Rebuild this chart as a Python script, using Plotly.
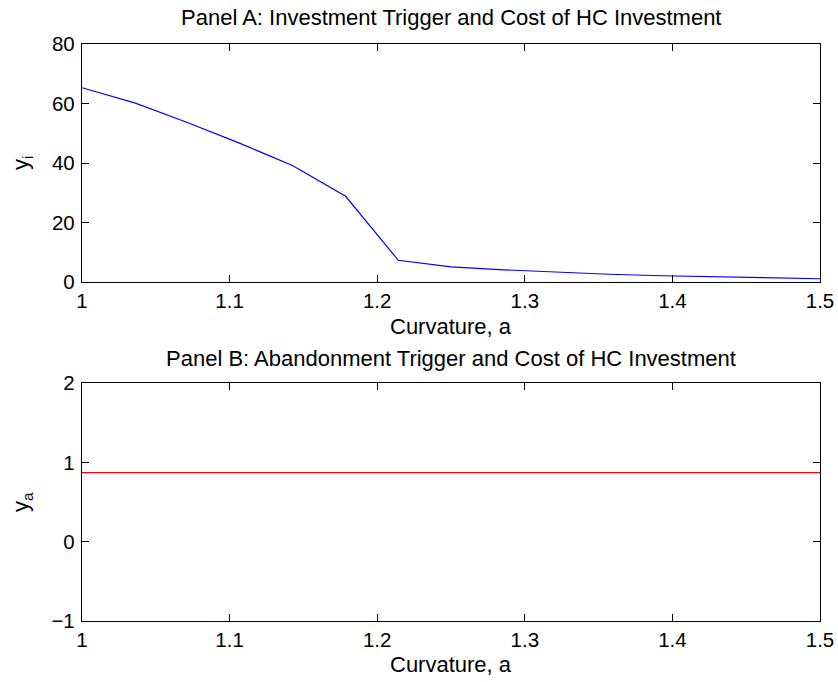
import plotly.graph_objects as go

curvature = [1.0, 1.0357, 1.0714, 1.1071, 1.1429, 1.1786, 1.2143, 1.25,
             1.2857, 1.3214, 1.3571, 1.3929, 1.4286, 1.4643, 1.5]
y_invest = [65.3, 60.2, 53.6, 46.6, 39.1, 28.8, 7.3, 5.1,
            4.1, 3.3, 2.6, 2.1, 1.7, 1.4, 1.1]
y_abandon = [0.87] * 15

x_ticks = [1, 1.1, 1.2, 1.3, 1.4, 1.5]
x_ticklabels = ["1", "1.1", "1.2", "1.3", "1.4", "1.5"]
yA_ticks = [0, 20, 40, 60, 80]
yB_ticks = [-1, 0, 1, 2]
yB_ticklabels = ["\u22121", "0", "1", "2"]

FONT = "Liberation Sans, Arial, Helvetica, sans-serif"
W, H = 838, 682

fig = go.Figure()
fig.add_trace(go.Scatter(x=curvature, y=y_invest, mode="lines",
                         line=dict(color="#0000ff", width=1.2),
                         xaxis="x", yaxis="y", showlegend=False))
fig.add_trace(go.Scatter(x=curvature, y=y_abandon, mode="lines",
                         line=dict(color="#ff0000", width=1.2),
                         xaxis="x2", yaxis="y2", showlegend=False))

xdom = [82 / W, 820 / W]
yA = [1 - 282 / H, 1 - 44 / H]
yB = [1 - 621 / H, 1 - 383 / H]

common = dict(showline=True, linecolor="black", linewidth=1.3, mirror="ticks",
              ticks="inside", ticklen=7, tickcolor="black", tickwidth=1,
              showgrid=False, zeroline=False, automargin=False,
              tickfont=dict(family=FONT, size=20.5, color="black"))

fig.update_layout(
    width=W, height=H, margin=dict(l=0, r=0, t=0, b=0),
    paper_bgcolor="white", plot_bgcolor="white",
    font=dict(family=FONT, color="black"),
    xaxis=dict(domain=xdom, anchor="y", range=[1, 1.5], tickvals=x_ticks,
               ticktext=x_ticklabels, **common),
    yaxis=dict(domain=yA, anchor="x", range=[0, 80], tickvals=yA_ticks,
               ticklabelstandoff=2, **common),
    xaxis2=dict(domain=xdom, anchor="y2", range=[1, 1.5], tickvals=x_ticks,
                ticktext=x_ticklabels, **common),
    yaxis2=dict(domain=yB, anchor="x2", range=[-1, 2], tickvals=yB_ticks,
                ticktext=yB_ticklabels, ticklabelstandoff=2, **common),
)

cx = (xdom[0] + xdom[1]) / 2
ann = [
    dict(text="Panel A: Investment Trigger and Cost of HC Investment",
         x=cx, y=1 - 18 / H),
    dict(text="Curvature, a", x=cx, y=1 - 326 / H),
    dict(text="Panel B: Abandonment Trigger and Cost of HC Investment",
         x=cx, y=1 - 358 / H),
    dict(text="Curvature, a", x=cx, y=1 - 664 / H),
    dict(text="y<sub>i</sub>", x=22 / W, y=1 - 163 / H, textangle=-90),
    dict(text="y<sub>a</sub>", x=22 / W, y=1 - 502 / H, textangle=-90),
]
for a in ann:
    a.update(xref="paper", yref="paper", showarrow=False,
             xanchor="center", yanchor="middle",
             font=dict(family=FONT, color="black", size=22))
fig.update_layout(annotations=ann)

fig.write_html("out.html")
